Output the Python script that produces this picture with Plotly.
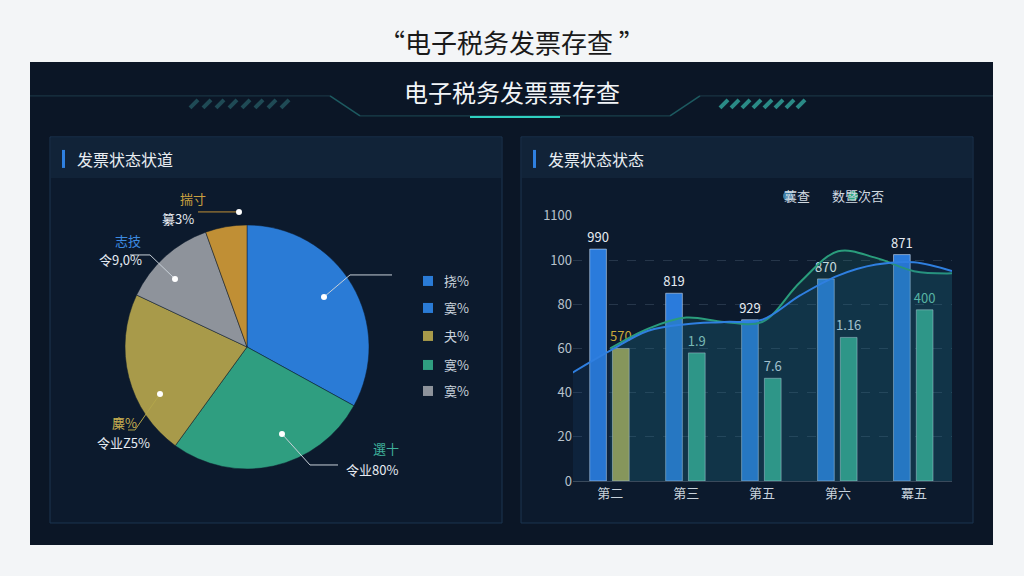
import plotly.graph_objects as go

W, H = 1024, 576
def px(x): return x / W
def py(y): return 1 - (y - 10.1) / 556.9

# ---- data ----
pie_labels = ["挠%", "寞%", "夬%", "寞% ", "寞%  "]
pie_values = [33, 27, 22, 12.5, 5.5]
pie_colors = ["#2a7bd6", "#2f9e80", "#a89a4a", "#8e939b", "#c08f35"]

categories = ["第二", "第三", "第五", "第六", "冪五"]
bar_a = [105, 85, 73, 91.5, 102.5]
bar_a_text = ["990", "819", "929", "870", "871"]
bar_b = [60, 58, 46.5, 65, 77.5]
bar_b_text = ["570", "1.9", "7.6", "1.16", "400"]
bar_b_colors = ["#b3a64a", "#35a888", "#35a888", "#35a888", "#35a888"]

line_x = [-0.5, 0, 0.5, 1, 1.5, 2, 2.5, 3, 3.5, 4, 4.5]
line_blue = [49, 59, 68, 71, 72, 73, 84, 93, 98, 99, 95]
line_green = [None, 60, 69, 74, 72, 72, 90, 104, 101, 95, 94]

yticks = [0, 20, 40, 60, 80, 100, 120]
yticktext = ["0", "20", "40", "60", "80", "100", "1100"]

fig = go.Figure()

fig.add_trace(go.Pie(
    values=pie_values, labels=pie_labels, sort=False, direction="clockwise",
    rotation=0, marker=dict(colors=pie_colors, line=dict(color="#0d1a2c", width=0.5)),
    textinfo="none", hoverinfo="none", showlegend=False,
    domain=dict(x=[px(125), px(369)], y=[py(469), py(225)])))

fig.add_trace(go.Scatter(
    x=line_x, y=line_green, mode="lines", line=dict(color="#2a9d7c", width=2, shape="spline"),
    fill="tozeroy", fillcolor="rgba(40,140,130,0.18)", showlegend=False, xaxis="x", yaxis="y"))
fig.add_trace(go.Scatter(
    x=line_x, y=line_blue, mode="lines", line=dict(color="#2f7fe0", width=2, shape="spline"),
    fill="tozeroy", fillcolor="rgba(30,90,150,0.15)", showlegend=False, xaxis="x", yaxis="y"))

fig.add_trace(go.Bar(
    x=list(range(5)), y=bar_a, width=0.22, offset=-0.27, marker_color="#2a7bdc",
    text=bar_a_text, textposition="outside", textfont=dict(color="#e6ebf2", size=13),
    constraintext="none", cliponaxis=False, showlegend=False))
fig.add_trace(go.Bar(
    x=list(range(5)), y=bar_b, width=0.22, offset=0.03, marker_color=bar_b_colors,
    text=bar_b_text, textposition="outside",
    textfont=dict(color=["#c9a93a", "#9fd8c8", "#d8e2ea", "#d8e2ea", "#6fd0b0"], size=13),
    constraintext="none", cliponaxis=False, showlegend=False))

shapes = [
    dict(type="rect", xref="paper", yref="paper", x0=px(30), x1=px(993), y0=py(545), y1=py(62),
         fillcolor="#0b1626", line=dict(width=0), layer="below"),
    dict(type="rect", xref="paper", yref="paper", x0=px(50), x1=px(502), y0=py(523), y1=py(137),
         fillcolor="#0c1a2d", line=dict(color="#1c3550", width=1), layer="below"),
    dict(type="rect", xref="paper", yref="paper", x0=px(521), x1=px(973), y0=py(523), y1=py(137),
         fillcolor="#0c1a2d", line=dict(color="#1c3550", width=1), layer="below"),
    dict(type="rect", xref="paper", yref="paper", x0=px(51), x1=px(501), y0=py(178), y1=py(138),
         fillcolor="#112338", line=dict(width=0), layer="below"),
    dict(type="rect", xref="paper", yref="paper", x0=px(522), x1=px(972), y0=py(178), y1=py(138),
         fillcolor="#112338", line=dict(width=0), layer="below"),
    dict(type="rect", xref="paper", yref="paper", x0=px(62), x1=px(65), y0=py(168), y1=py(150),
         fillcolor="#2f80e0", line=dict(width=0)),
    dict(type="rect", xref="paper", yref="paper", x0=px(533), x1=px(536), y0=py(168), y1=py(150),
         fillcolor="#2f80e0", line=dict(width=0)),
    dict(type="line", xref="paper", yref="paper", x0=px(30), x1=px(330), y0=py(96), y1=py(96),
         line=dict(color="#1d3a4a", width=1)),
    dict(type="line", xref="paper", yref="paper", x0=px(700), x1=px(993), y0=py(96), y1=py(96),
         line=dict(color="#1d3a4a", width=1)),
    dict(type="line", xref="paper", yref="paper", x0=px(330), x1=px(360), y0=py(96), y1=py(116),
         line=dict(color="#1d5a60", width=1.5)),
    dict(type="line", xref="paper", yref="paper", x0=px(700), x1=px(670), y0=py(96), y1=py(116),
         line=dict(color="#1d5a60", width=1.5)),
    dict(type="line", xref="paper", yref="paper", x0=px(360), x1=px(670), y0=py(116), y1=py(116),
         line=dict(color="#1d4a55", width=1)),
    dict(type="line", xref="paper", yref="paper", x0=px(470), x1=px(560), y0=py(117), y1=py(117),
         line=dict(color="#2fd0c0", width=2)),
]
for i in range(8):
    for x0, c in ((190 + i * 13, "#1f4a55"), (720 + i * 11, "#2a8a86")):
        shapes.append(dict(type="line", xref="paper", yref="paper", x0=px(x0), x1=px(x0 + 8),
                           y0=py(108), y1=py(100), line=dict(color=c, width=4)))
leaders = [
    ((324, 297), (350, 275), (392, 275), "#c8d0d8"),
    ((239, 212), (230, 212), (198, 212), "#c08f35"),
    ((175, 279), (150, 255), (130, 255), "#c8d0d8"),
    ((160, 394), (135, 430), (128, 430), "#b3a64a"),
    ((282, 434), (310, 465), (338, 465), "#c8d0d8"),
]
for (a, b, c, col) in leaders:
    shapes.append(dict(type="path", xref="paper", yref="paper",
                       path=f"M {px(a[0])},{py(a[1])} L {px(b[0])},{py(b[1])} L {px(c[0])},{py(c[1])}",
                       line=dict(color=col, width=1)))
    shapes.append(dict(type="circle", xref="paper", yref="paper", x0=px(a[0] - 3), x1=px(a[0] + 3),
                       y0=py(a[1] + 3), y1=py(a[1] - 3), fillcolor="white", line=dict(width=0)))
leg_y = [281, 308, 336, 365, 391]
leg_cols = ["#2a7bd6", "#2a7bd6", "#a89a4a", "#2f9e80", "#8e939b"]
for yy, col in zip(leg_y, leg_cols):
    shapes.append(dict(type="rect", xref="paper", yref="paper", x0=px(423), x1=px(433),
                       y0=py(yy + 5), y1=py(yy - 5), fillcolor=col, line=dict(width=0)))
for xx, col in ((788, "#3b7ea8"), (853, "#2fa882")):
    shapes.append(dict(type="circle", xref="paper", yref="paper", x0=px(xx - 5), x1=px(xx + 5),
                       y0=py(201), y1=py(191), fillcolor=col, line=dict(width=0)))

F = "Noto Sans CJK SC"
ann = [
    dict(x=px(512), y=py(42), text="“电子税务发票存查 ”", font=dict(size=26, color="#1a1a1a")),
    dict(x=px(512), y=py(92), text="电子税务发票票存查", font=dict(size=24, color="#f2f5f8")),
    dict(x=px(75), y=py(159), text="发票状态状道", font=dict(size=16, color="#e8edf2"), xanchor="left"),
    dict(x=px(546), y=py(159), text="发票状态状态", font=dict(size=16, color="#e8edf2"), xanchor="left"),
    dict(x=px(178), y=py(199), text="揣寸", font=dict(size=13, color="#c9a040")),
    dict(x=px(160), y=py(219), text="纂3%", font=dict(size=13, color="#e6ebf2")),
    dict(x=px(113), y=py(241), text="志技", font=dict(size=13, color="#3c8ae0")),
    dict(x=px(97), y=py(260), text="令9,0%", font=dict(size=13, color="#e6ebf2")),
    dict(x=px(110), y=py(423), text="麋%", font=dict(size=13, color="#c9b050")),
    dict(x=px(95), y=py(443), text="令业Ζ5%", font=dict(size=13, color="#e6ebf2")),
    dict(x=px(386), y=py(449), text="選十", font=dict(size=13, color="#3fb09a")),
    dict(x=px(372), y=py(470), text="令业80%", font=dict(size=13, color="#e6ebf2")),
    dict(x=px(812), y=py(196), text="蘘查", font=dict(size=13, color="#d0d8e0")),
    dict(x=px(886), y=py(196), text="数暨次否", font=dict(size=13, color="#d0d8e0")),
]
for yy, t in zip(leg_y, ["挠%", "寞%", "夬%", "寞%", "寞%"]):
    ann.append(dict(x=px(442), y=py(yy), text=t, font=dict(size=13, color="#c8d2dc"), xanchor="left"))
for a in ann:
    a.update(xref="paper", yref="paper", showarrow=False, yanchor="middle")
    a["font"]["family"] = F

fig.update_layout(
    autosize=True, margin=dict(l=0, r=0, t=0, b=0),
    paper_bgcolor="#f3f5f7", plot_bgcolor="rgba(0,0,0,0)",
    font=dict(family=F), barmode="overlay", shapes=shapes, annotations=ann,
    xaxis=dict(domain=[px(573), px(952)], range=[-0.49, 4.5], tickvals=list(range(5)),
               ticktext=categories, showgrid=False, zeroline=False, showline=True,
               linecolor="#3a4a5c", tickfont=dict(color="#c8d2dc", size=13), ticks=""),
    yaxis=dict(domain=[py(481), py(216)], range=[0, 120], tickvals=yticks, ticktext=yticktext,
               gridcolor="rgba(90,110,130,0.35)", griddash="dash", zeroline=False,
               tickfont=dict(color="#b8c2cc", size=13)),
)
fig.write_html("out.html", config={"displayModeBar": False, "responsive": True},
               default_width="100vw", default_height="100vh",
               post_script="document.body.style.margin='0';document.body.style.overflow='hidden';")
